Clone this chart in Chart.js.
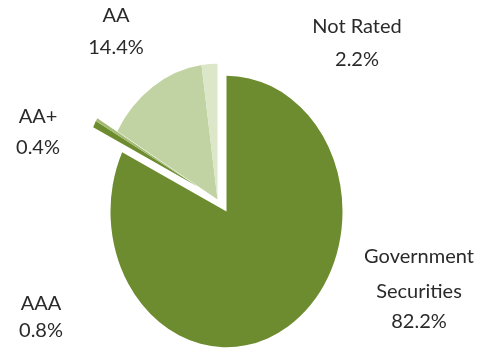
<!DOCTYPE html>
<html>
<head>
<meta charset="utf-8">
<script src="https://cdn.jsdelivr.net/npm/chart.js@4/dist/chart.umd.min.js"></script>
<style>
  html,body{margin:0;padding:0;background:#fff;}
  #wrap{width:481px;height:352px;position:relative;}
</style>
</head>
<body>
<div id="wrap"><canvas id="chart1"></canvas></div>
<script>
// data
var categories = ["Government Securities","AAA","AA+","AA","Not Rated"];
var shares = [82.2,0.8,0.4,14.4,2.2];
var labelLines = [["Government","Securities","82.2%"],["AAA","0.8%"],["AA+","0.4%"],["AA","14.4%"],["Not Rated","2.2%"]];

var colors = ["#6d8c30","#6d8c30","#a3bb72","#c2d3a3","#dce7c9"];
var squash = 1.17; // pie is drawn as an ellipse
// exploded pieces, screen px (AA and Not Rated pulled out together)
var explode = [[0,0],[-29,-25],[-29,-25],[-9,-12],[-9,-12]];

var ellipsePlugin = {
  id:"ellipse",
  afterDatasetUpdate:function(chart,args){
    var els = args.meta.data;
    for (var i=0;i<els.length;++i) { els[i].x += explode[i][0]; els[i].y += explode[i][1]/squash; }
  },
  beforeDatasetsDraw:function(chart){
    var a = chart.chartArea, ctx = chart.ctx;
    var cx = (a.left+a.right)/2, cy = (a.top+a.bottom)/2;
    ctx.save();
    ctx.translate(cx,cy); ctx.scale(1,squash); ctx.translate(-cx,-cy);
  },
  afterDatasetsDraw:function(chart){ chart.ctx.restore(); }
};

// label spots: centre x, baseline of each line
var labelPos = [[419,[263,298,328]],[41,[310,337]],[38,[123,154]],[116,[22,54]],[357,[33,66]]];
var labelPlugin = {
  id:"labels",
  afterDraw:function(chart){
    var ctx = chart.ctx;
    ctx.save();
    ctx.font = "20px Lato";
    ctx.fillStyle = "#2a2a2a";
    ctx.textAlign = "center";
    ctx.textBaseline = "alphabetic";
    for (var i=0;i<labelLines.length;++i) {
      var p = labelPos[i];
      for (var j=0;j<labelLines[i].length;++j) ctx.fillText(labelLines[i][j], p[0], p[1][j]);
    }
    ctx.restore();
  }
};

new Chart(document.getElementById("chart1"), {
  type:"pie",
  data:{ labels:categories, datasets:[{ data:shares, backgroundColor:colors, borderWidth:0 }] },
  options:{
    responsive:true, maintainAspectRatio:false, animation:false,
    radius:116,
    layout:{ padding:{ left:0, right:28, top:71, bottom:0 } },
    plugins:{ legend:{display:false}, tooltip:{enabled:false} }
  },
  plugins:[ellipsePlugin,labelPlugin]
});
</script>
</body>
</html>
